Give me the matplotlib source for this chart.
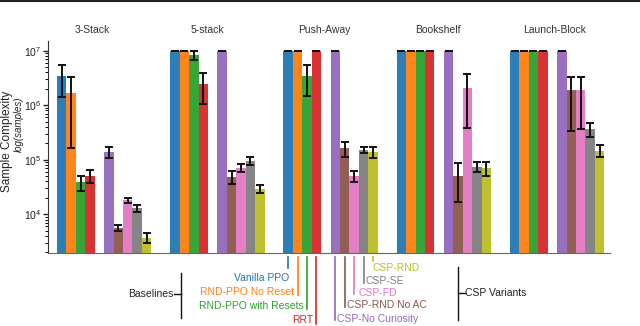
import numpy as np
import matplotlib
matplotlib.use("Agg")
import matplotlib.pyplot as plt
from matplotlib.lines import Line2D

plt.rcParams['font.family'] = ['Liberation Sans', 'DejaVu Sans']
plt.rcParams['mathtext.fontset'] = 'custom'
plt.rcParams['mathtext.rm'] = 'Liberation Sans'
plt.rcParams['mathtext.it'] = 'Liberation Sans:italic'

# tasks and methods
tasks = ['3-Stack', '5-stack', 'Push-Away', 'Bookshelf', 'Launch-Block']
task_label_x = [3.75, 15.95, 28.3, 40.4, 52.7]

baselines = ['Vanilla PPO', 'RND-PPO No Reset', 'RND-PPO with Resets', 'RRT']
csp_variants = ['CSP-No Curiosity', 'CSP-RND No AC', 'CSP-FD', 'CSP-SE', 'CSP-RND']
colors = ['#1f77b4', '#ff7f0e', '#2ca02c', '#d62728',
          '#9467bd', '#8c564b', '#e377c2', '#7f7f7f', '#bcbd22']

# samples needed per task (capped at 1e7), with lower / upper error bounds
vanilla_ppo = [3.4e6, 1e7, 1e7, 1e7, 1e7]
vanilla_ppo_lo = [1.4e6, 1e7, 1e7, 1e7, 1e7]
vanilla_ppo_hi = [5.4e6, 1e7, 1e7, 1e7, 1e7]

rnd_no_reset = [1.67e6, 1e7, 1e7, 1e7, 1e7]
rnd_no_reset_lo = [1.64e5, 1e7, 1e7, 1e7, 1e7]
rnd_no_reset_hi = [3.3e6, 1e7, 1e7, 1e7, 1e7]

rnd_resets = [3.85e4, 8.3e6, 3.4e6, 1e7, 1e7]
rnd_resets_lo = [2.63e4, 6.75e6, 1.5e6, 1e7, 1e7]
rnd_resets_hi = [5.1e4, 1e7, 5.4e6, 1e7, 1e7]

rrt = [5.1e4, 2.45e6, 1e7, 1e7, 1e7]
rrt_lo = [3.8e4, 1.05e6, 1e7, 1e7, 1e7]
rrt_hi = [6.5e4, 3.85e6, 1e7, 1e7, 1e7]

csp_no_cur = [1.38e5, 1e7, 1e7, 1e7, 1e7]
csp_no_cur_lo = [1.06e5, 1e7, 1e7, 1e7, 1e7]
csp_no_cur_hi = [1.71e5, 1e7, 1e7, 1e7, 1e7]

csp_rnd_no_ac = [5.6e3, 4.9e4, 1.66e5, 5.1e4, 1.88e6]
csp_rnd_no_ac_lo = [5.0e3, 3.6e4, 1.13e5, 1.68e4, 3.4e5]
csp_rnd_no_ac_hi = [6.3e3, 6.3e4, 2.1e5, 8.6e4, 3.3e6]

csp_fd = [1.8e4, 7.1e4, 5.0e4, 2.04e6, 1.88e6]
csp_fd_lo = [1.63e4, 5.9e4, 3.9e4, 3.8e5, 3.7e5]
csp_fd_hi = [1.98e4, 8.3e4, 6.1e4, 3.7e6, 3.3e6]

csp_se = [1.28e4, 9.6e4, 1.49e5, 7.3e4, 3.6e5]
csp_se_lo = [1.1e4, 8.1e4, 1.31e5, 5.9e4, 2.6e5]
csp_se_hi = [1.49e4, 1.13e5, 1.71e5, 8.95e4, 4.7e5]

csp_rnd = [3.66e3, 2.9e4, 1.37e5, 7.0e4, 1.44e5]
csp_rnd_lo = [3.0e3, 2.5e4, 1.07e5, 5.0e4, 1.13e5]
csp_rnd_hi = [4.47e3, 3.5e4, 1.71e5, 9.2e4, 1.84e5]

values = [vanilla_ppo, rnd_no_reset, rnd_resets, rrt,
          csp_no_cur, csp_rnd_no_ac, csp_fd, csp_se, csp_rnd]
lows = [vanilla_ppo_lo, rnd_no_reset_lo, rnd_resets_lo, rrt_lo,
        csp_no_cur_lo, csp_rnd_no_ac_lo, csp_fd_lo, csp_se_lo, csp_rnd_lo]
highs = [vanilla_ppo_hi, rnd_no_reset_hi, rnd_resets_hi, rrt_hi,
         csp_no_cur_hi, csp_rnd_no_ac_hi, csp_fd_hi, csp_se_hi, csp_rnd_hi]
names = baselines + csp_variants

fig = plt.figure(figsize=(6.4, 3.26), dpi=100)
ax = fig.add_axes([0.075, 0.223, 0.878, 0.652])
ax.set_yscale('log')

group_w = 12
slot = [0, 1, 2, 3, 5, 6, 7, 8, 9]   # gap of one bar between baselines and CSP

for k in range(9):
    xs = np.arange(len(tasks)) * group_w + slot[k] + 0.5
    v = np.array(values[k])
    ax.bar(xs, v, width=1.0, color=colors[k], alpha=0.95, linewidth=0)
    yerr = [v - np.array(lows[k]), np.array(highs[k]) - v]
    ax.errorbar(xs, v, yerr=yerr, fmt='none', ecolor='#111111',
                elinewidth=1.4, capsize=2.8, capthick=1.4)

ax.set_xlim(-0.95, 58.6)
ax.set_ylim(1919, 1.52e7)
ax.set_xticks([])
ax.set_yticks([1e4, 1e5, 1e6, 1e7])
ax.tick_params(axis='y', labelsize=7.5, length=3.5, width=1, pad=1.5,
               colors='#222222')
ax.tick_params(axis='y', which='minor', length=2, width=0.7)
for s in ['top', 'right']:
    ax.spines[s].set_visible(False)
ax.spines['left'].set_color('#333333')
ax.spines['bottom'].set_color('#666666')

for t, x in zip(tasks, task_label_x):
    ax.text(x, 1.025, t, transform=ax.get_xaxis_transform(),
            ha='center', va='bottom', fontsize=7.5, color='#333333')

fig.text(0.011, 0.565, 'Sample Complexity', rotation=90, ha='center',
         va='center', fontsize=8.5, color='#222222')
fig.text(0.029, 0.62, 'log(samples)', rotation=90, ha='center',
         va='center', fontsize=7, style='italic', color='#222222')

# legend-style callouts under the Push-Away group
trans = ax.get_xaxis_transform()
pa = 2 * group_w
line_end = [-0.07, -0.196, -0.264, -0.333, -0.315, -0.252, -0.193, -0.141, -0.036]
text_x = [24.6, 25.1, 26.13, 27.15, 29.73, 30.75, 31.92, 32.73, 33.44]
text_y = [-0.118, -0.181, -0.248, -0.314, -0.31, -0.243, -0.185, -0.13, -0.071]
for k in range(9):
    xc = pa + slot[k] + 0.5
    ax.add_line(Line2D([xc, xc], [-0.016, line_end[k]], transform=trans,
                       color=colors[k], lw=1.2, clip_on=False))
    ax.text(text_x[k], text_y[k], names[k], transform=trans,
            ha='right' if k < 4 else 'left', va='center',
            fontsize=7.5, color=colors[k], clip_on=False)

# brackets
ax.add_line(Line2D([13.1, 13.1], [-0.091, -0.306], transform=trans,
                   color='#111111', lw=1, clip_on=False))
ax.add_line(Line2D([12.4, 13.1], [-0.193, -0.193], transform=trans,
                   color='#111111', lw=1, clip_on=False))
ax.text(12.35, -0.193, 'Baselines', transform=trans, ha='right', va='center',
        fontsize=7.5, color='#222222')
ax.add_line(Line2D([42.45, 42.45], [-0.066, -0.314], transform=trans,
                   color='#111111', lw=1, clip_on=False))
ax.add_line(Line2D([42.45, 43.2], [-0.185, -0.185], transform=trans,
                   color='#111111', lw=1, clip_on=False))
ax.text(43.2, -0.185, 'CSP Variants', transform=trans, ha='left', va='center',
        fontsize=7.5, color='#222222')

# thin rule along the top edge
fig.add_artist(Line2D([0, 1], [0.996, 0.996], transform=fig.transFigure,
                      color='#222222', lw=1.5))

fig.savefig('out.png', dpi=100)
